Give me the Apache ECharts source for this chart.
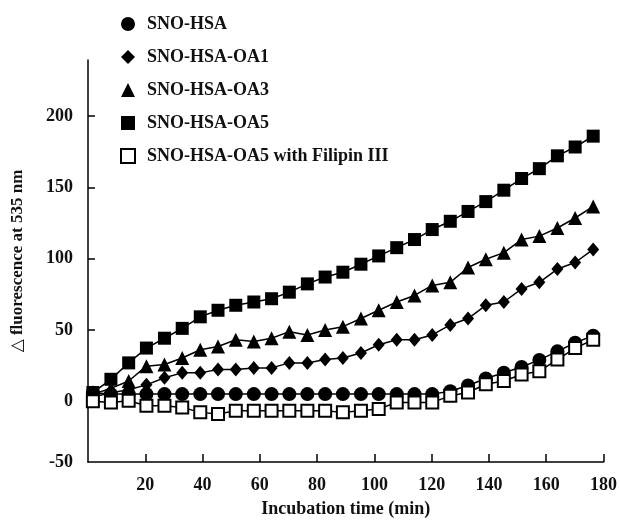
<!DOCTYPE html>
<html>
<head>
<meta charset="utf-8">
<title>SNO-HSA fluorescence</title>
<script src="https://cdn.jsdelivr.net/npm/echarts@6/dist/echarts.min.js"></script>
<style>
  html, body { margin: 0; padding: 0; background: #fff; }
  #chart { width: 620px; height: 523px; }
</style>
</head>
<body>
<div id="chart"></div>
<script>
// 横轴：孵育时间 (min)，第一个点是原点
const timeMin = [0, 1.7, 8.0, 14.2, 20.4, 26.7, 32.9, 39.2, 45.4, 51.6, 57.9, 64.1, 70.3, 76.6, 82.8, 89.0,
  95.3, 101.5, 107.8, 114.0, 120.2, 126.5, 132.7, 138.9, 145.2, 151.4, 157.6, 163.9, 170.1, 176.4]

// 各组 Δ fluorescence at 535 nm
const snoHsa = [0, 6, 5, 5, 5, 5, 5, 5, 5, 5, 5, 5, 5, 5, 5, 5,
  5, 5, 5, 5, 5, 7, 11, 16, 20, 24, 29, 35, 41, 46]
const snoHsaOa1 = [0, 3, 6, 8, 11.5, 16.5, 19.9, 19.9, 22.3, 22.3, 23.4, 23.4, 26.9, 26.9, 29.2, 30.3,
  33.8, 39.6, 43.1, 43.1, 46.5, 53.5, 58, 67.3, 69.6, 78.8, 83.4, 92.7, 97.3, 106.5]
const snoHsaOa3 = [0, 5, 9, 14.2, 24.6, 25.8, 30.3, 36.1, 38.4, 43.1, 41.9, 44.2, 48.8, 46.5, 50, 52.3,
  58, 63.8, 69.6, 74.2, 81.2, 83.4, 93.8, 99.6, 104.2, 113.4, 115.8, 121.5, 128.5, 136.6]
const snoHsaOa5 = [0, 6.1, 15.4, 26.9, 37.3, 44.2, 51.1, 59.2, 63.8, 67.3, 69.6, 71.9, 76.5, 82.3, 87.1, 90.5,
  96.1, 101.9, 107.7, 113.4, 120.4, 126.2, 133.1, 140, 148, 156.2, 163.1, 172.1, 178.3, 185.9]
const snoHsaOa5Filipin = [0, 0, -0.8, 0.3, -3.1, -3.1, -4.3, -7.8, -8.9, -6.6, -6.6, -6.6, -6.6, -6.6, -6.6, -7.8,
  -6.6, -5.4, -0.8, -0.8, -0.8, 3.8, 6.1, 11.9, 14.2, 18.8, 21.1, 29.2, 37.3, 43.1]

const seriesNames = ['SNO-HSA', 'SNO-HSA-OA1', 'SNO-HSA-OA3', 'SNO-HSA-OA5', 'SNO-HSA-OA5 with Filipin III']
const xTicks = [20, 40, 60, 80, 100, 120, 140, 160, 180]
const yTicks = [0, 50, 100, 150, 200]
const yBottomLabel = '-50'

const Y_MIN = -42.6
const Y_MAX = 239.3
const FONT = '"Liberation Serif", "DejaVu Serif", serif'

function toPoints(values) {
  return values.map((v, i) => {
    const p = { value: [timeMin[i], v] }
    if (i === 0) p.symbol = 'none' // 原点只画线，不画标记
    return p
  })
}

function lineSeries(name, values, symbol, size, itemStyle) {
  return {
    name: name,
    type: 'line',
    data: toPoints(values),
    symbol: symbol,
    symbolSize: size,
    showSymbol: true,
    lineStyle: { color: '#000', width: 1.5 },
    itemStyle: itemStyle || { color: '#000' },
    emphasis: { disabled: true }
  }
}

const filledStyle = { color: '#000', borderWidth: 0 }
const openStyle = { color: '#fff', borderColor: '#000', borderWidth: 2 }

const option = {
  animation: false,
  backgroundColor: '#fff',
  textStyle: { fontFamily: FONT },
  grid: {
    left: 88,
    right: 13,
    top: 60,
    bottom: 56,
    containLabel: false
  },
  legend: {
    orient: 'vertical',
    left: 115,
    top: 10,
    itemWidth: 14,
    itemHeight: 14,
    itemGap: 15,
    textStyle: {
      fontFamily: FONT,
      fontWeight: 'bold',
      fontSize: 18,
      lineHeight: 18,
      color: '#111',
      padding: [0, 0, 0, 7]
    },
    data: [
      { name: seriesNames[0], icon: 'circle', itemStyle: filledStyle },
      { name: seriesNames[1], icon: 'diamond', itemStyle: filledStyle },
      { name: seriesNames[2], icon: 'triangle', itemStyle: filledStyle },
      { name: seriesNames[3], icon: 'rect', itemStyle: filledStyle },
      { name: seriesNames[4], icon: 'rect', itemStyle: openStyle }
    ]
  },
  xAxis: {
    type: 'value',
    min: 0,
    max: 180,
    interval: 20,
    name: 'Incubation time (min)',
    nameLocation: 'middle',
    nameGap: 38,
    nameTextStyle: { fontFamily: FONT, fontWeight: 'bold', fontSize: 18, color: '#111' },
    axisLine: { show: true, onZero: false, lineStyle: { color: '#000', width: 1.5 } },
    axisTick: { show: true, inside: true, length: 8, customValues: xTicks, lineStyle: { color: '#000', width: 1.5 } },
    axisLabel: {
      customValues: xTicks,
      margin: 14,
      fontFamily: FONT,
      fontWeight: 'bold',
      fontSize: 18,
      color: '#111'
    },
    splitLine: { show: false }
  },
  yAxis: {
    type: 'value',
    min: Y_MIN,
    max: Y_MAX,
    name: '\u25B3 fluorescence at 535 nm',
    nameLocation: 'middle',
    nameGap: 62,
    nameRotate: 90,
    nameTextStyle: { fontFamily: FONT, fontWeight: 'bold', fontSize: 17, color: '#111' },
    axisLine: { show: true, onZero: false, lineStyle: { color: '#000', width: 1.5 } },
    axisTick: { show: true, inside: true, length: 7, customValues: yTicks, lineStyle: { color: '#000', width: 1.5 } },
    axisLabel: {
      // 底端标 -50
      customValues: [Y_MIN].concat(yTicks),
      formatter: function (value) {
        return value < -1 ? yBottomLabel : String(value)
      },
      margin: 15,
      fontFamily: FONT,
      fontWeight: 'bold',
      fontSize: 18,
      color: '#111'
    },
    splitLine: { show: false }
  },
  series: [
    lineSeries(seriesNames[0], snoHsa, 'circle', 14, filledStyle),
    lineSeries(seriesNames[1], snoHsaOa1, 'diamond', [12, 14], filledStyle),
    lineSeries(seriesNames[2], snoHsaOa3, 'triangle', 14, filledStyle),
    lineSeries(seriesNames[3], snoHsaOa5, 'rect', 13, filledStyle),
    lineSeries(seriesNames[4], snoHsaOa5Filipin, 'rect', 12, openStyle)
  ]
}

const myChart = echarts.init(document.getElementById('chart'))
myChart.setOption(option)
</script>
</body>
</html>
